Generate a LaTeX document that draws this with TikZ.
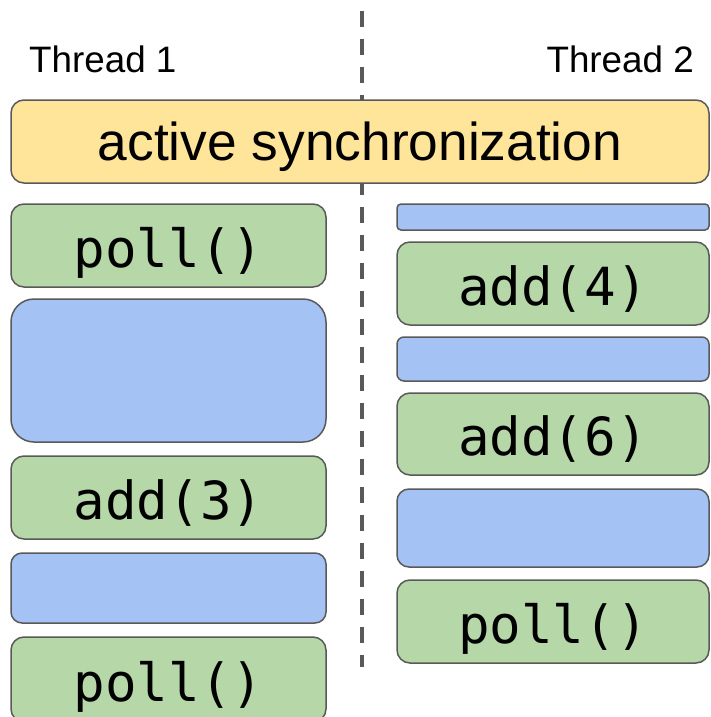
\documentclass[tikz,border=0pt]{standalone}
\usepackage{fontspec}
\setmainfont{Liberation Sans}
\newfontfamily\codefont{DejaVu Sans Mono}
\definecolor{strokegray}{HTML}{595959}
\definecolor{greenfill}{HTML}{B6D7A8}
\definecolor{bluefill}{HTML}{A4C2F4}
\definecolor{yellowfill}{HTML}{FFE599}
\begin{document}
\begin{tikzpicture}[x=1pt,y=-1pt,
  boxbase/.style={draw=strokegray, line width=1.5pt, anchor=north west, inner sep=0pt, outer sep=0pt},
  leftcol/.style={minimum width=315pt},
  rightcol/.style={minimum width=312pt},
  callbox/.style={boxbase, fill=greenfill, rounded corners=13pt, font=\codefont\fontsize{52.5}{60}\selectfont, text height=50pt, text depth=7pt},
  waitbox/.style={boxbase, fill=bluefill, rounded corners=#1},
  threadlabel/.style={font=\fontsize{36.8}{42}\selectfont, inner sep=0pt}
]
\useasboundingbox (0,0) rectangle (710,717);
\clip (0,0) rectangle (710,717);
% divider
\coordinate (dtop) at (362,11);
\coordinate (dbot) at (362,667);
\draw[strokegray, line width=4pt, dash pattern=on 16pt off 12pt] (dtop) -- (dbot);
% labels
\node[threadlabel, anchor=base west] (t1) at (29,72) {Thread 1};
\node[threadlabel, anchor=base east] (t2) at (694,72) {Thread 2};
% sync bar
\node[boxbase, fill=yellowfill, rounded corners=13pt, minimum width=698pt, minimum height=83pt,
      font=\fontsize{53.3}{60}\selectfont, text height=45pt, text depth=8pt] (sync) at (11,100) {active synchronization};
% thread 1
\node[callbox, leftcol, minimum height=83pt] (l1) at (11,204) {poll()};
\node[waitbox=23pt, leftcol, minimum height=143pt] (l2) at (11,299) {};
\node[callbox, leftcol, minimum height=83pt] (l3) at (11,456) {add(3)};
\node[waitbox=11pt, leftcol, minimum height=70pt] (l4) at (11,553) {};
\node[callbox, leftcol, minimum height=85pt] (l5) at (11,637) {poll()};
% thread 2
\node[waitbox=4pt, rightcol, minimum height=26pt] (r1) at (397,204) {};
\node[callbox, rightcol, minimum height=83pt] (r2) at (397,242) {add(4)};
\node[waitbox=7pt, rightcol, minimum height=44pt] (r3) at (397,337) {};
\node[callbox, rightcol, minimum height=82pt] (r4) at (397,393) {add(6)};
\node[waitbox=12pt, rightcol, minimum height=78pt] (r5) at (397,489) {};
\node[callbox, rightcol, minimum height=83pt] (r6) at (397,580) {poll()};
\end{tikzpicture}
\end{document}
